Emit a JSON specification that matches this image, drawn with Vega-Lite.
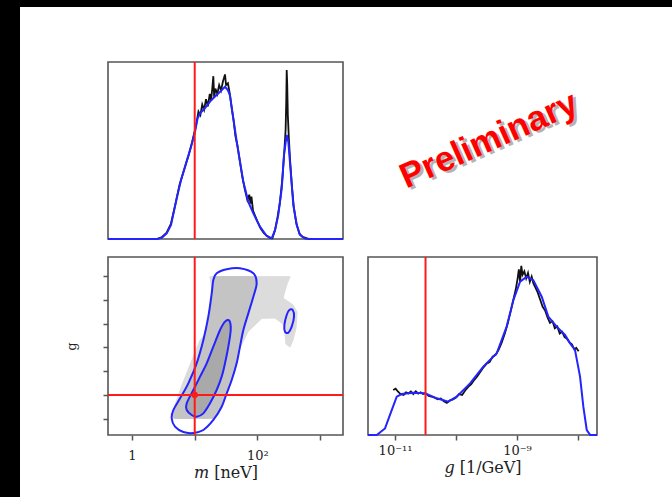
{
  "$schema": "https://vega.github.io/schema/vega-lite/v6.json",
  "background": "white",
  "padding": 0,
  "spacing": 0,
  "config": {"view": {"stroke": null}, "axis": {"grid": false, "domain": false, "tickColor": "#555", "tickWidth": 1.5, "labelColor": "#222", "titleColor": "#222", "labelFont": "DejaVu Serif", "titleFont": "DejaVu Serif", "titleFontWeight": "normal"}},
  "datasets": {
    "m_kde": [
      {"log_m": -0.383, "density": 0}, {"log_m": 0.399, "density": 0}, {"log_m": 0.478, "density": 0.8}, {"log_m": 0.553, "density": 3.2},
      {"log_m": 0.622, "density": 8}, {"log_m": 0.713, "density": 23}, {"log_m": 0.78, "density": 33}, {"log_m": 0.872, "density": 44},
      {"log_m": 0.941, "density": 52}, {"log_m": 1.005, "density": 60.6}, {"log_m": 1.045, "density": 68}, {"log_m": 1.085, "density": 71},
      {"log_m": 1.164, "density": 74}, {"log_m": 1.244, "density": 77.6}, {"log_m": 1.324, "density": 80.5}, {"log_m": 1.404, "density": 83.2},
      {"log_m": 1.483, "density": 86}, {"log_m": 1.531, "density": 84}, {"log_m": 1.563, "density": 81}, {"log_m": 1.616, "density": 68},
      {"log_m": 1.67, "density": 55}, {"log_m": 1.722, "density": 43.7}, {"log_m": 1.775, "density": 32.4}, {"log_m": 1.855, "density": 21},
      {"log_m": 1.935, "density": 14.5}, {"log_m": 2.041, "density": 7}, {"log_m": 2.148, "density": 1.7}, {"log_m": 2.228, "density": 0.4},
      {"log_m": 2.281, "density": 5}, {"log_m": 2.333, "density": 13.6}, {"log_m": 2.388, "density": 28.6}, {"log_m": 2.424, "density": 47.5},
      {"log_m": 2.467, "density": 58.8}, {"log_m": 2.493, "density": 55}, {"log_m": 2.531, "density": 38}, {"log_m": 2.573, "density": 19.2},
      {"log_m": 2.627, "density": 7.9}, {"log_m": 2.679, "density": 2.3}, {"log_m": 2.759, "density": 0.3}, {"log_m": 2.839, "density": 0},
      {"log_m": 3.365, "density": 0}
    ],
    "m_hist": [
      {"log_m": 0.4, "density": 0}, {"log_m": 0.47, "density": 0.9}, {"log_m": 0.55, "density": 3.5}, {"log_m": 0.62, "density": 8.5},
      {"log_m": 0.7, "density": 21}, {"log_m": 0.76, "density": 31}, {"log_m": 0.83, "density": 39}, {"log_m": 0.9, "density": 47},
      {"log_m": 0.96, "density": 55}, {"log_m": 1.0, "density": 61}, {"log_m": 1.03, "density": 66}, {"log_m": 1.06, "density": 72},
      {"log_m": 1.09, "density": 70}, {"log_m": 1.12, "density": 76}, {"log_m": 1.15, "density": 73}, {"log_m": 1.18, "density": 79},
      {"log_m": 1.21, "density": 75}, {"log_m": 1.24, "density": 82}, {"log_m": 1.26, "density": 78}, {"log_m": 1.28, "density": 85},
      {"log_m": 1.297, "density": 92}, {"log_m": 1.31, "density": 80}, {"log_m": 1.33, "density": 85}, {"log_m": 1.36, "density": 82},
      {"log_m": 1.39, "density": 87}, {"log_m": 1.42, "density": 84}, {"log_m": 1.45, "density": 89}, {"log_m": 1.483, "density": 93},
      {"log_m": 1.5, "density": 87}, {"log_m": 1.53, "density": 88}, {"log_m": 1.56, "density": 82}, {"log_m": 1.59, "density": 74},
      {"log_m": 1.62, "density": 67}, {"log_m": 1.65, "density": 58}, {"log_m": 1.68, "density": 53}, {"log_m": 1.72, "density": 44},
      {"log_m": 1.76, "density": 35}, {"log_m": 1.8, "density": 28}, {"log_m": 1.84, "density": 22}, {"log_m": 1.87, "density": 25},
      {"log_m": 1.89, "density": 20}, {"log_m": 1.905, "density": 24}, {"log_m": 1.93, "density": 16}, {"log_m": 2.0, "density": 10},
      {"log_m": 2.05, "density": 6}, {"log_m": 2.1, "density": 3.5}, {"log_m": 2.15, "density": 1.8}, {"log_m": 2.2, "density": 0.7},
      {"log_m": 2.24, "density": 0.6}, {"log_m": 2.28, "density": 5}, {"log_m": 2.32, "density": 12}, {"log_m": 2.36, "density": 21},
      {"log_m": 2.4, "density": 35}, {"log_m": 2.43, "density": 50}, {"log_m": 2.45, "density": 62}, {"log_m": 2.46, "density": 78},
      {"log_m": 2.467, "density": 95.5}, {"log_m": 2.475, "density": 88}, {"log_m": 2.485, "density": 70}, {"log_m": 2.5, "density": 58},
      {"log_m": 2.52, "density": 45}, {"log_m": 2.55, "density": 30}, {"log_m": 2.58, "density": 18}, {"log_m": 2.62, "density": 9},
      {"log_m": 2.67, "density": 3}, {"log_m": 2.72, "density": 1.2}, {"log_m": 2.8, "density": 0.2}, {"log_m": 2.85, "density": 0}
    ],
    "g_kde": [
      {"log_g": -11.443, "density": 0}, {"log_g": -11.3, "density": 0}, {"log_g": -11.164, "density": 3.7}, {"log_g": -11.054, "density": 14},
      {"log_g": -10.972, "density": 21.5}, {"log_g": -10.89, "density": 23}, {"log_g": -10.7, "density": 23.8}, {"log_g": -10.508, "density": 23.4},
      {"log_g": -10.316, "density": 20.6}, {"log_g": -10.126, "density": 18.7}, {"log_g": -9.989, "density": 21.5}, {"log_g": -9.77, "density": 29},
      {"log_g": -9.553, "density": 38.4}, {"log_g": -9.333, "density": 45.9}, {"log_g": -9.17, "density": 60.9}, {"log_g": -9.06, "density": 75.8},
      {"log_g": -8.95, "density": 86.1}, {"log_g": -8.841, "density": 88.9}, {"log_g": -8.733, "density": 87}, {"log_g": -8.595, "density": 77.7},
      {"log_g": -8.487, "density": 66.5}, {"log_g": -8.35, "density": 60.9}, {"log_g": -8.213, "density": 56.2}, {"log_g": -8.13, "density": 51.5},
      {"log_g": -8.05, "density": 47.8}, {"log_g": -7.967, "density": 32.8}, {"log_g": -7.913, "density": 15.9}, {"log_g": -7.857, "density": 2.8},
      {"log_g": -7.8, "density": 0}, {"log_g": -7.689, "density": 0}
    ],
    "g_hist": [
      {"log_g": -11.03, "density": 25.3}, {"log_g": -10.99, "density": 26}, {"log_g": -10.95, "density": 24.3}, {"log_g": -10.91, "density": 23},
      {"log_g": -10.86, "density": 22.5}, {"log_g": -10.82, "density": 24}, {"log_g": -10.78, "density": 23.4}, {"log_g": -10.74, "density": 24.5},
      {"log_g": -10.7, "density": 23}, {"log_g": -10.66, "density": 24.6}, {"log_g": -10.62, "density": 23.2}, {"log_g": -10.58, "density": 24},
      {"log_g": -10.54, "density": 23}, {"log_g": -10.5, "density": 23.5}, {"log_g": -10.45, "density": 22}, {"log_g": -10.4, "density": 21.5},
      {"log_g": -10.35, "density": 21}, {"log_g": -10.3, "density": 20}, {"log_g": -10.25, "density": 20.5}, {"log_g": -10.2, "density": 19},
      {"log_g": -10.15, "density": 18}, {"log_g": -10.1, "density": 19.5}, {"log_g": -10.05, "density": 20}, {"log_g": -10.0, "density": 21},
      {"log_g": -9.95, "density": 23}, {"log_g": -9.9, "density": 22.5}, {"log_g": -9.85, "density": 25}, {"log_g": -9.8, "density": 27},
      {"log_g": -9.75, "density": 28.5}, {"log_g": -9.7, "density": 31}, {"log_g": -9.65, "density": 33}, {"log_g": -9.6, "density": 35.5},
      {"log_g": -9.55, "density": 38}, {"log_g": -9.5, "density": 40}, {"log_g": -9.45, "density": 41}, {"log_g": -9.4, "density": 44},
      {"log_g": -9.35, "density": 45}, {"log_g": -9.3, "density": 48}, {"log_g": -9.25, "density": 52}, {"log_g": -9.2, "density": 57},
      {"log_g": -9.15, "density": 63}, {"log_g": -9.1, "density": 70}, {"log_g": -9.06, "density": 76}, {"log_g": -9.02, "density": 82},
      {"log_g": -8.99, "density": 88}, {"log_g": -8.97, "density": 93}, {"log_g": -8.95, "density": 86}, {"log_g": -8.93, "density": 95},
      {"log_g": -8.91, "density": 90}, {"log_g": -8.88, "density": 92}, {"log_g": -8.85, "density": 88}, {"log_g": -8.82, "density": 91},
      {"log_g": -8.79, "density": 86}, {"log_g": -8.76, "density": 89}, {"log_g": -8.73, "density": 85}, {"log_g": -8.7, "density": 83},
      {"log_g": -8.66, "density": 80}, {"log_g": -8.62, "density": 76}, {"log_g": -8.58, "density": 72}, {"log_g": -8.54, "density": 70},
      {"log_g": -8.5, "density": 66}, {"log_g": -8.46, "density": 63}, {"log_g": -8.42, "density": 64}, {"log_g": -8.38, "density": 60},
      {"log_g": -8.34, "density": 61}, {"log_g": -8.3, "density": 57}, {"log_g": -8.26, "density": 58}, {"log_g": -8.22, "density": 55},
      {"log_g": -8.18, "density": 54}, {"log_g": -8.14, "density": 52}, {"log_g": -8.1, "density": 51}, {"log_g": -8.06, "density": 48},
      {"log_g": -8.03, "density": 49}, {"log_g": -7.99, "density": 47}
    ],
    "cloud": [
      {"shape": "light", "order": 1, "log_m": 1.244, "log_g": -8.009}, {"shape": "light", "order": 2, "log_m": 2.52, "log_g": -8.009},
      {"shape": "light", "order": 3, "log_m": 2.467, "log_g": -8.184}, {"shape": "light", "order": 4, "log_m": 2.408, "log_g": -8.458},
      {"shape": "light", "order": 5, "log_m": 2.568, "log_g": -8.605}, {"shape": "light", "order": 6, "log_m": 2.632, "log_g": -8.753},
      {"shape": "light", "order": 7, "log_m": 2.616, "log_g": -9.089}, {"shape": "light", "order": 8, "log_m": 2.568, "log_g": -9.342},
      {"shape": "light", "order": 9, "log_m": 2.52, "log_g": -9.489}, {"shape": "light", "order": 10, "log_m": 2.456, "log_g": -9.426},
      {"shape": "light", "order": 11, "log_m": 2.424, "log_g": -9.026}, {"shape": "light", "order": 12, "log_m": 2.281, "log_g": -8.879},
      {"shape": "light", "order": 13, "log_m": 2.073, "log_g": -8.885}, {"shape": "light", "order": 14, "log_m": 1.85, "log_g": -9.167},
      {"shape": "light", "order": 15, "log_m": 1.722, "log_g": -9.511}, {"shape": "light", "order": 16, "log_m": 1.643, "log_g": -9.868},
      {"shape": "light", "order": 17, "log_m": 1.531, "log_g": -10.22}, {"shape": "light", "order": 18, "log_m": 1.404, "log_g": -10.563},
      {"shape": "light", "order": 19, "log_m": 1.244, "log_g": -10.852}, {"shape": "light", "order": 20, "log_m": 1.196, "log_g": -10.991},
      {"shape": "light", "order": 21, "log_m": 0.686, "log_g": -10.991}, {"shape": "light", "order": 22, "log_m": 0.686, "log_g": -10.711},
      {"shape": "light", "order": 23, "log_m": 0.797, "log_g": -10.289}, {"shape": "light", "order": 24, "log_m": 0.925, "log_g": -9.868},
      {"shape": "light", "order": 25, "log_m": 1.085, "log_g": -9.342}, {"shape": "light", "order": 26, "log_m": 1.212, "log_g": -9.167},
      {"shape": "light", "order": 27, "log_m": 1.244, "log_g": -8.711}, {"shape": "light", "order": 28, "log_m": 1.292, "log_g": -8.458},
      {"shape": "mid", "order": 1, "log_m": 1.30, "log_g": -8.01}, {"shape": "mid", "order": 2, "log_m": 1.96, "log_g": -8.01},
      {"shape": "mid", "order": 3, "log_m": 1.985, "log_g": -8.15}, {"shape": "mid", "order": 4, "log_m": 1.935, "log_g": -8.43},
      {"shape": "mid", "order": 5, "log_m": 1.855, "log_g": -8.781}, {"shape": "mid", "order": 6, "log_m": 1.776, "log_g": -9.132},
      {"shape": "mid", "order": 7, "log_m": 1.722, "log_g": -9.482}, {"shape": "mid", "order": 8, "log_m": 1.669, "log_g": -9.833},
      {"shape": "mid", "order": 9, "log_m": 1.59, "log_g": -10.184}, {"shape": "mid", "order": 10, "log_m": 1.51, "log_g": -10.465},
      {"shape": "mid", "order": 11, "log_m": 1.43, "log_g": -10.746}, {"shape": "mid", "order": 12, "log_m": 1.30, "log_g": -10.99},
      {"shape": "mid", "order": 13, "log_m": 0.66, "log_g": -10.99}, {"shape": "mid", "order": 14, "log_m": 0.67, "log_g": -10.816},
      {"shape": "mid", "order": 15, "log_m": 0.766, "log_g": -10.57}, {"shape": "mid", "order": 16, "log_m": 0.898, "log_g": -10.254},
      {"shape": "mid", "order": 17, "log_m": 1.031, "log_g": -9.833}, {"shape": "mid", "order": 18, "log_m": 1.138, "log_g": -9.342},
      {"shape": "mid", "order": 19, "log_m": 1.217, "log_g": -8.851}, {"shape": "mid", "order": 20, "log_m": 1.271, "log_g": -8.36},
      {"shape": "mid", "order": 21, "log_m": 1.29, "log_g": -8.1}
    ],
    "contours": [
      {"level": "outer", "order": 1, "log_m": 1.35, "log_g": -7.939}, {"level": "outer", "order": 2, "log_m": 1.51, "log_g": -7.854},
      {"level": "outer", "order": 3, "log_m": 1.722, "log_g": -7.833}, {"level": "outer", "order": 4, "log_m": 1.935, "log_g": -7.939},
      {"level": "outer", "order": 5, "log_m": 1.988, "log_g": -8.149}, {"level": "outer", "order": 6, "log_m": 1.935, "log_g": -8.43},
      {"level": "outer", "order": 7, "log_m": 1.855, "log_g": -8.781}, {"level": "outer", "order": 8, "log_m": 1.776, "log_g": -9.132},
      {"level": "outer", "order": 9, "log_m": 1.722, "log_g": -9.482}, {"level": "outer", "order": 10, "log_m": 1.669, "log_g": -9.833},
      {"level": "outer", "order": 11, "log_m": 1.59, "log_g": -10.184}, {"level": "outer", "order": 12, "log_m": 1.51, "log_g": -10.465},
      {"level": "outer", "order": 13, "log_m": 1.43, "log_g": -10.746}, {"level": "outer", "order": 14, "log_m": 1.297, "log_g": -11.026},
      {"level": "outer", "order": 15, "log_m": 1.138, "log_g": -11.237}, {"level": "outer", "order": 16, "log_m": 0.978, "log_g": -11.3},
      {"level": "outer", "order": 17, "log_m": 0.819, "log_g": -11.28}, {"level": "outer", "order": 18, "log_m": 0.686, "log_g": -11.167},
      {"level": "outer", "order": 19, "log_m": 0.633, "log_g": -10.991}, {"level": "outer", "order": 20, "log_m": 0.659, "log_g": -10.816},
      {"level": "outer", "order": 21, "log_m": 0.766, "log_g": -10.57}, {"level": "outer", "order": 22, "log_m": 0.898, "log_g": -10.254},
      {"level": "outer", "order": 23, "log_m": 1.031, "log_g": -9.833}, {"level": "outer", "order": 24, "log_m": 1.138, "log_g": -9.342},
      {"level": "outer", "order": 25, "log_m": 1.217, "log_g": -8.851}, {"level": "outer", "order": 26, "log_m": 1.271, "log_g": -8.36},
      {"level": "outer", "order": 27, "log_m": 1.297, "log_g": -8.079},
      {"level": "inner", "order": 1, "log_m": 1.483, "log_g": -8.956}, {"level": "inner", "order": 2, "log_m": 1.552, "log_g": -8.935},
      {"level": "inner", "order": 3, "log_m": 1.574, "log_g": -9.132}, {"level": "inner", "order": 4, "log_m": 1.536, "log_g": -9.482},
      {"level": "inner", "order": 5, "log_m": 1.483, "log_g": -9.833}, {"level": "inner", "order": 6, "log_m": 1.43, "log_g": -10.114},
      {"level": "inner", "order": 7, "log_m": 1.35, "log_g": -10.395}, {"level": "inner", "order": 8, "log_m": 1.244, "log_g": -10.675},
      {"level": "inner", "order": 9, "log_m": 1.138, "log_g": -10.886}, {"level": "inner", "order": 10, "log_m": 1.031, "log_g": -10.956},
      {"level": "inner", "order": 11, "log_m": 0.952, "log_g": -10.921}, {"level": "inner", "order": 12, "log_m": 0.872, "log_g": -10.816},
      {"level": "inner", "order": 13, "log_m": 0.872, "log_g": -10.675}, {"level": "inner", "order": 14, "log_m": 0.978, "log_g": -10.395},
      {"level": "inner", "order": 15, "log_m": 1.085, "log_g": -10.114}, {"level": "inner", "order": 16, "log_m": 1.191, "log_g": -9.833},
      {"level": "inner", "order": 17, "log_m": 1.297, "log_g": -9.482}, {"level": "inner", "order": 18, "log_m": 1.404, "log_g": -9.132},
      {"level": "island", "order": 1, "log_m": 2.509, "log_g": -8.711}, {"level": "island", "order": 2, "log_m": 2.563, "log_g": -8.711},
      {"level": "island", "order": 3, "log_m": 2.584, "log_g": -8.851}, {"level": "island", "order": 4, "log_m": 2.547, "log_g": -9.061},
      {"level": "island", "order": 5, "log_m": 2.493, "log_g": -9.188}, {"level": "island", "order": 6, "log_m": 2.44, "log_g": -9.167},
      {"level": "island", "order": 7, "log_m": 2.43, "log_g": -9.026}, {"level": "island", "order": 8, "log_m": 2.467, "log_g": -8.816}
    ]
  },
  "hconcat": [
    {"width": 20, "height": 497, "data": {"values": []}, "mark": "point", "view": {"fill": "black", "stroke": null}},
    {
      "vconcat": [
        {"width": 652, "height": 7, "data": {"values": []}, "mark": "point", "view": {"fill": "black", "stroke": null}},
        {
          "hconcat": [
            {"width": 1, "height": 1, "data": {"values": []}, "mark": "point"},
            {
              "concat": [
                {
                  "width": 235, "height": 177,
                  "view": {"stroke": "#555", "strokeWidth": 1.6},
                  "layer": [
                    {"data": {"name": "m_hist"}, "mark": {"type": "line", "color": "#111", "strokeWidth": 1.8},
                     "encoding": {"x": {"field": "log_m", "type": "quantitative", "scale": {"domain": [-0.383, 3.365], "nice": false, "zero": false}, "axis": null},
                                  "y": {"field": "density", "type": "quantitative", "scale": {"domain": [0, 100], "nice": false}, "axis": null}}},
                    {"data": {"name": "m_kde"}, "mark": {"type": "line", "color": "#2424ff", "strokeWidth": 2},
                     "encoding": {"x": {"field": "log_m", "type": "quantitative"}, "y": {"field": "density", "type": "quantitative"}}},
                    {"data": {"values": [{"log_m": 1}]}, "mark": {"type": "rule", "color": "#ff1a1a", "strokeWidth": 2},
                     "encoding": {"x": {"field": "log_m", "type": "quantitative"}}}
                  ]
                },
                {
                  "width": 229, "height": 177,
                  "data": {"values": [{"label": "Preliminary"}]},
                  "layer": [
                    {"mark": {"type": "text", "angle": 336, "font": "Liberation Sans", "fontWeight": "bold", "fontSize": 35, "color": "#777", "opacity": 0.55, "dx": 12, "dy": -4, "align": "center", "baseline": "middle"},
                     "encoding": {"text": {"field": "label"}}},
                    {"mark": {"type": "text", "angle": 336, "font": "Liberation Sans", "fontWeight": "bold", "fontSize": 35, "color": "#ff0000", "dx": 10, "dy": -7, "align": "center", "baseline": "middle"},
                     "encoding": {"text": {"field": "label"}}}
                  ]
                },
                {
                  "width": 235, "height": 178,
                  "view": {"stroke": "#555", "strokeWidth": 1.6},
                  "layer": [
                    {"data": {"name": "cloud"}, "transform": [{"filter": "datum.shape == 'light'"}],
                     "mark": {"type": "line", "interpolate": "linear-closed", "color": "#dcdcdc", "fill": "#dcdcdc", "strokeWidth": 1},
                     "encoding": {"x": {"field": "log_m", "type": "quantitative", "scale": {"domain": [-0.383, 3.365], "nice": false, "zero": false},
                                        "axis": {"values": [0, 1, 2, 3], "labelExpr": "datum.value == 0 ? '1' : datum.value == 2 ? '10²' : ''", "tickSize": 5, "labelFontSize": 13, "labelPadding": 9, "title": "𝑚 [neV]", "titleFontSize": 16, "titlePadding": 2}},
                                  "y": {"field": "log_g", "type": "quantitative", "scale": {"domain": [-11.342, -7.595], "nice": false, "zero": false},
                                        "axis": {"values": [-11, -10.5, -10, -9.5, -9, -8.5, -8], "tickCount": 20, "labels": false, "tickSize": 5, "title": "g", "titleFontSize": 13, "titlePadding": 24}},
                                  "order": {"field": "order", "type": "quantitative"}}},
                    {"data": {"name": "cloud"}, "transform": [{"filter": "datum.shape == 'mid'"}],
                     "mark": {"type": "line", "interpolate": "linear-closed", "color": "#c4c4c4", "fill": "#c4c4c4", "strokeWidth": 1},
                     "encoding": {"x": {"field": "log_m", "type": "quantitative"}, "y": {"field": "log_g", "type": "quantitative"}, "order": {"field": "order", "type": "quantitative"}}},
                    {"data": {"name": "contours"}, "transform": [{"filter": "datum.level == 'inner'"}],
                     "mark": {"type": "line", "interpolate": "cardinal-closed", "color": "#a9a9a9", "fill": "#a9a9a9", "strokeWidth": 1},
                     "encoding": {"x": {"field": "log_m", "type": "quantitative"}, "y": {"field": "log_g", "type": "quantitative"}, "order": {"field": "order", "type": "quantitative"}}},
                    {"data": {"name": "contours"},
                     "mark": {"type": "line", "interpolate": "cardinal-closed", "color": "#2424ff", "strokeWidth": 2},
                     "encoding": {"x": {"field": "log_m", "type": "quantitative"}, "y": {"field": "log_g", "type": "quantitative"}, "detail": {"field": "level"}, "order": {"field": "order", "type": "quantitative"}}},
                    {"data": {"values": [{"log_m": 1}]}, "mark": {"type": "rule", "color": "#ff1a1a", "strokeWidth": 2},
                     "encoding": {"x": {"field": "log_m", "type": "quantitative"}}},
                    {"data": {"values": [{"log_g": -10.5}]}, "mark": {"type": "rule", "color": "#ff1a1a", "strokeWidth": 2},
                     "encoding": {"y": {"field": "log_g", "type": "quantitative"}}},
                    {"data": {"values": [{"log_m": 1, "log_g": -10.5}]}, "mark": {"type": "point", "filled": true, "color": "#ff1a1a", "size": 40, "opacity": 1},
                     "encoding": {"x": {"field": "log_m", "type": "quantitative"}, "y": {"field": "log_g", "type": "quantitative"}}}
                  ]
                },
                {
                  "width": 229, "height": 178,
                  "view": {"stroke": "#555", "strokeWidth": 1.6},
                  "layer": [
                    {"data": {"name": "g_hist"}, "mark": {"type": "line", "color": "#111", "strokeWidth": 1.8},
                     "encoding": {"x": {"field": "log_g", "type": "quantitative", "scale": {"domain": [-11.443, -7.689], "nice": false, "zero": false},
                                        "axis": {"values": [-11, -10, -9, -8], "tickCount": 20, "labelExpr": "datum.value == -11 ? '10⁻¹¹' : datum.value == -9 ? '10⁻⁹' : ''", "tickSize": 5, "labelFontSize": 13, "labelPadding": 4, "title": "𝑔 [1/GeV]", "titleFontSize": 16, "titlePadding": 2}},
                                  "y": {"field": "density", "type": "quantitative", "scale": {"domain": [0, 100], "nice": false}, "axis": null}}},
                    {"data": {"name": "g_kde"}, "mark": {"type": "line", "color": "#2424ff", "strokeWidth": 2},
                     "encoding": {"x": {"field": "log_g", "type": "quantitative"}, "y": {"field": "density", "type": "quantitative"}}},
                    {"data": {"values": [{"log_g": -10.5}]}, "mark": {"type": "rule", "color": "#ff1a1a", "strokeWidth": 2},
                     "encoding": {"x": {"field": "log_g", "type": "quantitative"}}}
                  ]
                }
              ],
              "columns": 2, "spacing": {"row": 18, "column": 25}, "bounds": "flush", "align": "each"
            }
          ],
          "spacing": 43
        }
      ],
      "spacing": 53
    }
  ]
}
